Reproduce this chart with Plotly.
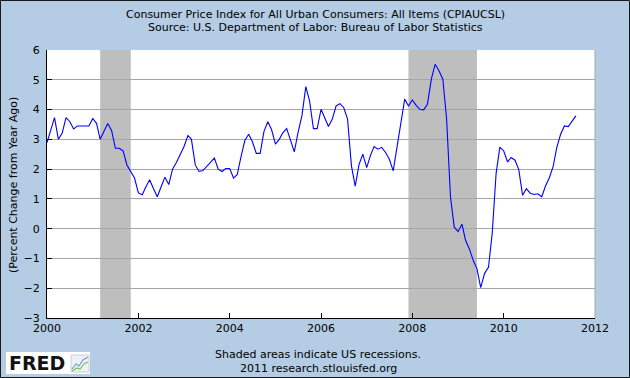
import pandas as pd
import plotly.graph_objects as go

# ---- data -------------------------------------------------------------
start_month = "2000-01-01"
cpi_yoy = [
    # 2000
    2.89, 3.30, 3.73, 3.00, 3.20, 3.73, 3.60, 3.35, 3.45, 3.45, 3.45, 3.45,
    # 2001
    3.70, 3.53, 3.00, 3.25, 3.53, 3.29, 2.70, 2.70, 2.61, 2.14, 1.92, 1.70,
    # 2002
    1.20, 1.14, 1.40, 1.64, 1.35, 1.07, 1.40, 1.73, 1.48, 2.00, 2.22, 2.50,
    # 2003
    2.76, 3.13, 3.00, 2.14, 1.92, 1.95, 2.09, 2.22, 2.37, 2.00, 1.92, 2.02,
    # 2004
    2.02, 1.70, 1.81, 2.42, 2.96, 3.17, 2.92, 2.53, 2.53, 3.26, 3.59, 3.33,
    # 2005
    2.84, 3.00, 3.22, 3.36, 2.95, 2.58, 3.23, 3.79, 4.77, 4.29, 3.36, 3.36,
    # 2006
    4.01, 3.70, 3.43, 3.68, 4.12, 4.20, 4.07, 3.68, 2.11, 1.43, 2.16, 2.50,
    # 2007
    2.05, 2.47, 2.76, 2.67, 2.73, 2.56, 2.33, 1.94, 2.78, 3.60, 4.35, 4.12,
    # 2008
    4.32, 4.14, 4.01, 3.99, 4.18, 5.02, 5.52, 5.30, 5.02, 3.70, 1.07, 0.05,
    # 2009
    -0.10, 0.15, -0.38, -0.68, -1.05, -1.35, -1.98, -1.50, -1.30, -0.15, 1.85, 2.74,
    # 2010
    2.61, 2.24, 2.39, 2.30, 1.99, 1.12, 1.34, 1.19, 1.15, 1.17, 1.07, 1.43,
    # 2011
    1.71, 2.10, 2.72, 3.17, 3.45, 3.43, 3.59, 3.79,
]
recession_starts = ["2001-03-01", "2007-12-01"]
recession_ends = ["2001-11-01", "2009-06-01"]
x_range = ["2000-01-01", "2012-01-01"]
y_range = [-3, 6]

title_lines = [
    "Consumer Price Index for All Urban Consumers: All Items (CPIAUCSL)",
    "Source: U.S. Department of Labor: Bureau of Labor Statistics",
]
y_title = "(Percent Change from Year Ago)"
footer_lines = ["Shaded areas indicate US recessions.", "2011 research.stlouisfed.org"]

# ---- figure -----------------------------------------------------------
dates = pd.date_range(start_month, periods=len(cpi_yoy), freq="MS")

W, H = 630, 378
L, R, T, B = 47, 595, 50, 318


def px(x):
    return (x - L) / (R - L)


def py(y):
    return (B - y) / (B - T)


FONT = "DejaVu Sans"
BG = "#b4cde4"

fig = go.Figure()
fig.add_trace(go.Scatter(
    x=dates, y=cpi_yoy, mode="lines",
    line=dict(color="#0000ff", width=1.1),
    showlegend=False, hoverinfo="x+y",
))

shapes = []
for s, e in zip(recession_starts, recession_ends):
    shapes.append(dict(type="rect", xref="x", yref="paper", x0=s, x1=e, y0=0, y1=1,
                       fillcolor="#bebebe", line=dict(width=0), layer="between"))
# right edge of plot (grey)
shapes.append(dict(type="line", xref="paper", yref="paper", x0=1, x1=1, y0=0, y1=1,
                   line=dict(color="#a6a6a6", width=1), layer="above"))
# FRED logo box
shapes.append(dict(type="rect", xref="paper", yref="paper",
                   x0=px(6), x1=px(90), y0=py(374), y1=py(352),
                   fillcolor="white", line=dict(width=0), layer="above"))
shapes.append(dict(type="rect", xref="paper", yref="paper",
                   x0=px(71), x1=px(89), y0=py(372), y1=py(355),
                   fillcolor="#eef2f6", line=dict(color="#c8d0d8", width=1), layer="above"))
shapes.append(dict(type="path", xref="paper", yref="paper",
                   path=f"M {px(72)} {py(369)} L {px(76)} {py(364)} L {px(79)} {py(366)} L {px(83)} {py(360)} L {px(88)} {py(357)}",
                   line=dict(color="#6f9fd0", width=1.2), layer="above"))
shapes.append(dict(type="path", xref="paper", yref="paper",
                   path=f"M {px(72)} {py(371)} L {px(77)} {py(368)} L {px(80)} {py(369)} L {px(84)} {py(364)} L {px(88)} {py(362)}",
                   line=dict(color="#7cbf5a", width=1.2), layer="above"))
# outer border
shapes.append(dict(type="rect", xref="paper", yref="paper",
                   x0=px(0.5), x1=px(629.5), y0=py(377.5), y1=py(0.5),
                   line=dict(color="#1a1a1a", width=1), fillcolor="rgba(0,0,0,0)", layer="above"))

annotations = []
for i, t in enumerate(title_lines):
    annotations.append(dict(text=t, xref="paper", yref="paper", x=px(315), y=py(14 + 13 * i),
                            xanchor="center", yanchor="middle", showarrow=False,
                            font=dict(family=FONT, size=11, color="#000")))
annotations.append(dict(text=y_title, xref="paper", yref="paper", x=px(13), y=py(185),
                        xanchor="center", yanchor="middle", textangle=-90, showarrow=False,
                        font=dict(family=FONT, size=11, color="#000")))
for i, t in enumerate(footer_lines):
    annotations.append(dict(text=t, xref="paper", yref="paper", x=px(318), y=py(354 + 14 * i),
                            xanchor="center", yanchor="middle", showarrow=False,
                            font=dict(family=FONT, size=11, color="#000")))
annotations.append(dict(text="<b>FRED</b>", xref="paper", yref="paper", x=px(37), y=py(363),
                        xanchor="center", yanchor="middle", showarrow=False,
                        font=dict(family=FONT, size=19, color="#111")))

fig.update_layout(
    width=W, height=H,
    margin=dict(l=L, r=W - R, t=T, b=H - B, pad=0),
    paper_bgcolor=BG, plot_bgcolor="white",
    shapes=shapes, annotations=annotations,
    font=dict(family=FONT, size=11, color="#000"),
    xaxis=dict(type="date", range=x_range, dtick="M24", tick0="2000-01-01",
               tickformat="%Y", ticks="inside", ticklen=5, tickcolor="#000",
               showline=True, linecolor="#000", linewidth=1, showgrid=False,
               zeroline=False, tickfont=dict(family=FONT, size=11, color="#000")),
    yaxis=dict(range=y_range, dtick=1, ticks="inside", ticklen=5, tickcolor="#000",
               showline=True, linecolor="#000", linewidth=1, showgrid=True,
               gridcolor="#a6a6a6", gridwidth=1, zeroline=False,
               ticklabelstandoff=4,
               tickfont=dict(family=FONT, size=11, color="#000")),
)

fig.write_html("out.html", config={"displayModeBar": False},
               post_script="document.body.style.margin='0';")
